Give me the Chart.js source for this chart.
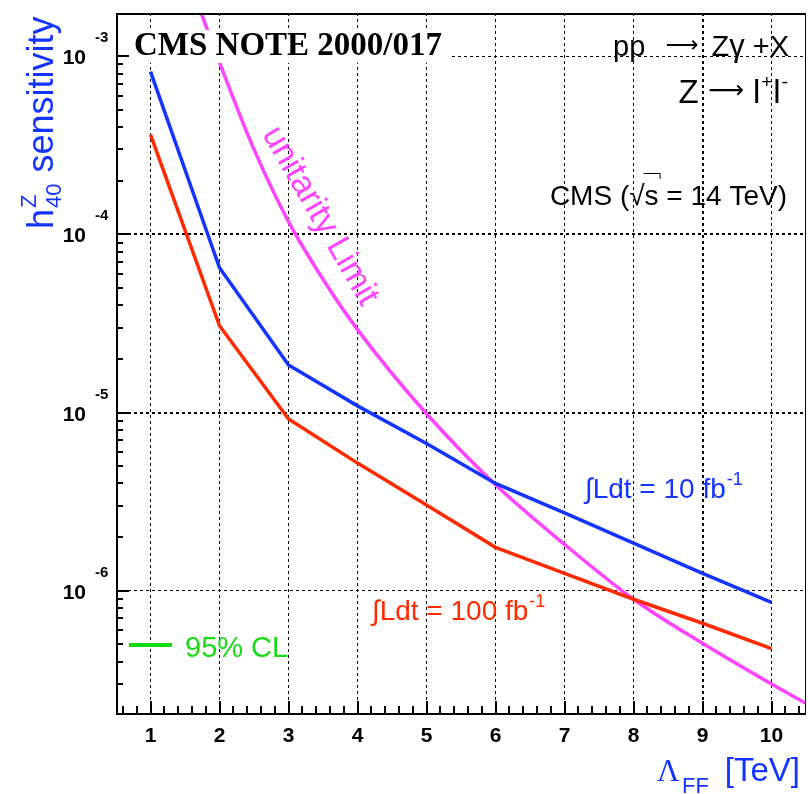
<!DOCTYPE html>
<html>
<head>
<meta charset="utf-8">
<title>h40Z sensitivity vs Lambda_FF</title>
<script src="https://cdn.jsdelivr.net/npm/chart.js@4/dist/chart.umd.min.js"></script>
<style>
  html, body { margin: 0; padding: 0; background: #fff; }
  canvas { display: block; }
</style>
</head>
<body>
<canvas id="sensitivity" width="808" height="794"></canvas>
<script>
// form factor scale Lambda_FF [TeV]
const lambdaFF = [1, 2, 3, 4, 5, 6, 7, 8, 9, 10];
// 95% CL h40Z sensitivity, 10 fb-1 and 100 fb-1
const sens10fb = [8.2e-4, 6.5e-5, 1.85e-5, 1.09e-5, 6.7e-6, 4.0e-6, 2.73e-6, 1.85e-6, 1.25e-6, 8.6e-7];
const sens100fb = [3.63e-4, 3.07e-5, 9.2e-6, 5.2e-6, 3.03e-6, 1.75e-6, 1.25e-6, 8.95e-7, 6.56e-7, 4.72e-7];
// unitarity bound
const unitarityLambda = [1.7, 2, 2.5, 3, 3.5, 4, 5, 6, 7, 8, 9, 10, 10.5];
const unitarityLimit = [1.9e-3, 9.25e-4, 3.0e-4, 1.18e-4, 5.6e-5, 2.92e-5, 9.84e-6, 3.93e-6, 1.82e-6, 8.95e-7, 5.06e-7, 2.99e-7, 2.33e-7];

const xTicks = [1, 2, 3, 4, 5, 6, 7, 8, 9, 10];
const yDecades = [1e-6, 1e-5, 1e-4, 1e-3];
const yExponents = ['-6', '-5', '-4', '-3'];

const BLUE = '#1434ff';
const RED = '#ff2a00';
const MAGENTA = '#ff44ff';
const GREEN = '#14dc14';
const SANS = '"Liberation Sans", Arial, Helvetica, sans-serif';
const SERIF = '"Liberation Serif", "Times New Roman", serif';
const ARROW = '"DejaVu Sans", sans-serif';

function toPoints(xs, ys) {
  return xs.map((x, i) => ({ x: x, y: ys[i] }));
}

// text with superscript / subscript pieces, left aligned, returns end x
function drawPieces(ctx, pieces, x, y) {
  let cx = x;
  pieces.forEach(p => {
    ctx.font = p.font;
    ctx.fillText(p.t, cx + (p.dx || 0), y + (p.dy || 0));
    cx += ctx.measureText(p.t).width + (p.dx || 0);
  });
  return cx;
}
function piecesWidth(ctx, pieces) {
  let w = 0;
  pieces.forEach(p => { ctx.font = p.font; w += ctx.measureText(p.t).width + (p.dx || 0); });
  return w;
}

const rootStyle = {
  id: 'rootStyle',
  afterDatasetsDraw(chart) {
    const ctx = chart.ctx;
    const a = chart.chartArea;
    const xs = chart.scales.x;
    const ys = chart.scales.y;
    ctx.save();
    ctx.textAlign = 'left';
    ctx.textBaseline = 'alphabetic';

    // label box at top left
    ctx.fillStyle = '#fff';
    ctx.fillRect(118, 30, 332, 33);
    ctx.fillStyle = '#000';
    ctx.font = 'bold 33px ' + SERIF;
    ctx.fillText('CMS NOTE 2000/017', 134, 55);

    // frame
    ctx.strokeStyle = '#000';
    ctx.lineWidth = 2;
    ctx.beginPath();
    ctx.moveTo(a.left + 1, a.top);
    ctx.lineTo(a.left + 1, a.bottom);
    ctx.lineTo(a.right, a.bottom);
    ctx.moveTo(a.left, a.top + 1);
    ctx.lineTo(a.right, a.top + 1);
    ctx.stroke();
    ctx.lineWidth = 1;
    ctx.beginPath();
    ctx.moveTo(a.right - 0.5, a.top);
    ctx.lineTo(a.right - 0.5, a.bottom);
    ctx.stroke();

    // inward tick marks
    ctx.lineWidth = 2;
    ctx.beginPath();
    for (let v = 0.6; v < 10.45; v += 0.2) {
      const r = Math.round(v * 10) / 10;
      const px = Math.round(xs.getPixelForValue(r));
      const len = Math.abs(r - Math.round(r)) < 1e-6 ? 13 : 8;
      ctx.moveTo(px, a.bottom);
      ctx.lineTo(px, a.bottom - len);
    }
    for (let e = -7; e <= -3; e++) {
      for (let k = 1; k <= 9; k++) {
        const v = k * Math.pow(10, e);
        if (v < ys.min || v > ys.max) continue;
        const py = Math.round(ys.getPixelForValue(v));
        const len = k === 1 ? 13 : 7;
        ctx.moveTo(a.left, py);
        ctx.lineTo(a.left + len, py);
      }
    }
    ctx.stroke();

    // y tick labels 10^n
    ctx.fillStyle = '#000';
    yDecades.forEach((v, i) => {
      const py = ys.getPixelForValue(v);
      ctx.font = 'bold 21px ' + SANS;
      ctx.textAlign = 'right';
      ctx.fillText('10', 86, py + 8);
      ctx.font = 'bold 15px ' + SANS;
      ctx.textAlign = 'left';
      ctx.fillText(yExponents[i], 95, py - 14);
    });
    ctx.textAlign = 'left';

    // process labels, top right
    ctx.fillStyle = '#000';
    const pp = [
      { t: 'pp ', font: '29px ' + SANS },
      { t: '\u27f6', font: '23px ' + ARROW, dy: -4, dx: 12 },
      { t: ' Z', font: '29px ' + SANS, dx: 5 },
      { t: '\u03b3', font: '31px ' + SANS },
      { t: ' +X', font: '29px ' + SANS }
    ];
    drawPieces(ctx, pp, 789 - piecesWidth(ctx, pp), 56);
    const zl = [
      { t: 'Z ', font: '33px ' + SANS },
      { t: '\u27f6', font: '25px ' + ARROW, dy: -5 },
      { t: ' l', font: '33px ' + SANS },
      { t: '+', font: '19px ' + SANS, dy: -15, dx: 1 },
      { t: 'l', font: '33px ' + SANS, dx: 1 },
      { t: '-', font: '19px ' + SANS, dy: -15, dx: 1 }
    ];
    drawPieces(ctx, zl, 788 - piecesWidth(ctx, zl), 103);

    // CMS (sqrt s = 14 TeV)
    ctx.font = '28px ' + SANS;
    const cmsA = 'CMS (', cmsR = '\u221a', cmsS = 's', cmsB = ' = 14 TeV)';
    const total = ctx.measureText(cmsA + cmsR + cmsS + cmsB).width;
    let cx = 787 - total;
    ctx.fillText(cmsA, cx, 205);
    cx += ctx.measureText(cmsA).width;
    ctx.fillText(cmsR, cx, 205);
    cx += ctx.measureText(cmsR).width;
    const sw = ctx.measureText(cmsS).width;
    ctx.fillText(cmsS, cx, 205);
    ctx.lineWidth = 1;
    ctx.strokeStyle = '#000';
    ctx.beginPath();
    ctx.moveTo(cx - 1, 173.5);
    ctx.lineTo(cx + sw + 1.5, 173.5);
    ctx.lineTo(cx + sw + 1.5, 179);
    ctx.stroke();
    ctx.fillText(cmsB, cx + sw, 205);

    // unitarity label along the curve
    ctx.save();
    ctx.translate(320, 216);
    ctx.rotate(60 * Math.PI / 180);
    ctx.fillStyle = MAGENTA;
    ctx.font = '34px ' + SANS;
    ctx.textAlign = 'center';
    ctx.textBaseline = 'middle';
    ctx.fillText('unitarity Limit', 0, 0);
    ctx.restore();

    // luminosity labels
    ctx.fillStyle = BLUE;
    drawPieces(ctx, [
      { t: '\u222bLdt = 10 fb', font: '28px ' + SANS },
      { t: '-1', font: '18px ' + SANS, dy: -13, dx: 1 }
    ], 585, 498);
    ctx.fillStyle = RED;
    drawPieces(ctx, [
      { t: '\u222bLdt = 100 fb', font: '28px ' + SANS },
      { t: '-1', font: '18px ' + SANS, dy: -13, dx: 1 }
    ], 372, 620);

    // legend
    ctx.strokeStyle = GREEN;
    ctx.lineWidth = 4;
    ctx.beginPath();
    ctx.moveTo(129, 645);
    ctx.lineTo(172, 645);
    ctx.stroke();
    ctx.fillStyle = GREEN;
    ctx.font = '29px ' + SANS;
    ctx.fillText('95% CL', 185, 657);

    // y axis title
    ctx.save();
    ctx.translate(53, 229);
    ctx.rotate(-Math.PI / 2);
    ctx.fillStyle = BLUE;
    drawPieces(ctx, [
      { t: 'h', font: '36px ' + SANS },
      { t: 'Z', font: '22px ' + SANS, dy: -17, dx: 1 }
    ], 0, 0);
    ctx.font = '36px ' + SANS;
    const hw = ctx.measureText('h').width;
    ctx.font = '22px ' + SANS;
    ctx.fillText('40', hw + 1, 8);
    const fw = ctx.measureText('40').width;
    ctx.font = '36px ' + SANS;
    ctx.fillText(' sensitivity', hw + fw + 2, 0);
    ctx.restore();

    // x axis title
    ctx.fillStyle = BLUE;
    ctx.font = '31px ' + SERIF;
    ctx.fillText('\u039b', 657, 781);
    ctx.font = '22px ' + SANS;
    ctx.fillText('FF', 682, 793);
    ctx.font = '33px ' + SANS;
    ctx.textAlign = 'right';
    ctx.fillText('[TeV]', 800, 781);

    ctx.restore();
  }
};

const decadeWidth = v => (Math.abs(Math.log10(v) + 4) < 1e-6 || Math.abs(Math.log10(v) + 5) < 1e-6) ? 2 : 1;

new Chart(document.getElementById('sensitivity'), {
  type: 'line',
  data: {
    datasets: [
      {
        label: '10 fb-1',
        data: toPoints(lambdaFF, sens10fb),
        borderColor: BLUE,
        borderWidth: 3.5,
        tension: 0,
        clip: 0
      },
      {
        label: '100 fb-1',
        data: toPoints(lambdaFF, sens100fb),
        borderColor: RED,
        borderWidth: 3.5,
        tension: 0,
        clip: 0
      },
      {
        label: 'unitarity Limit',
        data: toPoints(unitarityLambda, unitarityLimit),
        borderColor: MAGENTA,
        borderWidth: 3.5,
        cubicInterpolationMode: 'monotone',
        clip: 0
      }
    ]
  },
  options: {
    responsive: false,
    animation: false,
    devicePixelRatio: 1,
    layout: { padding: { top: 13, right: 2, left: 0, bottom: 0 } },
    elements: { point: { radius: 0, hoverRadius: 0 }, line: { borderCapStyle: 'butt', borderJoinStyle: 'miter' } },
    plugins: { legend: { display: false }, tooltip: { enabled: false } },
    events: [],
    scales: {
      x: {
        type: 'linear',
        min: 0.5,
        max: 10.5,
        bounds: 'data',
        afterBuildTicks: s => { s.ticks = xTicks.map(v => ({ value: v })); },
        afterFit: s => { s.height = 80; },
        ticks: {
          autoSkip: false,
          maxRotation: 0,
          padding: 10,
          color: '#000',
          font: { family: SANS, size: 21, weight: 'bold' },
          callback: v => String(v)
        },
        grid: { color: '#000', lineWidth: ctx => (ctx.tick && ctx.tick.value === 9 ? 2 : 1), drawTicks: false },
        border: { display: false, dash: [3, 3] }
      },
      y: {
        type: 'logarithmic',
        min: 2.03e-7,
        max: 1.75e-3,
        bounds: 'data',
        afterBuildTicks: s => { s.ticks = yDecades.map(v => ({ value: v })); },
        afterFit: s => { s.width = 116; },
        ticks: { display: false },
        grid: { color: '#000', lineWidth: ctx => (ctx.tick ? decadeWidth(ctx.tick.value) : 1), drawTicks: false },
        border: { display: false, dash: [3, 3] }
      }
    }
  },
  plugins: [rootStyle]
});
</script>
</body>
</html>
